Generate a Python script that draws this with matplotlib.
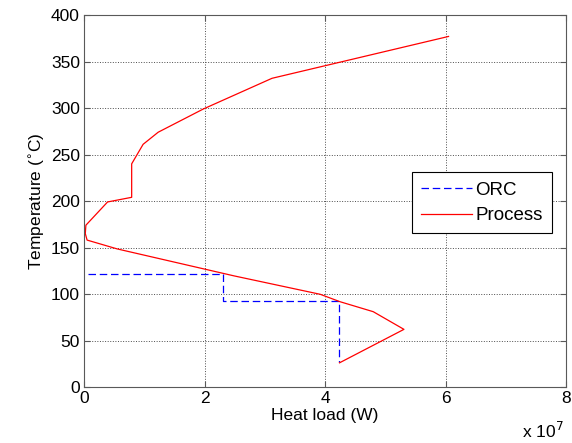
import matplotlib
matplotlib.use('Agg')
import matplotlib.pyplot as plt
import numpy as np

# Heat load in units of 1e7 W, temperatures in deg C
orc_q = [0.07, 2.30, 2.30, 4.24, 4.24]
orc_t = [121, 121, 92, 92, 27]

proc_q = [6.05, 3.12, 1.98, 1.23, 0.98, 0.79, 0.79, 0.39, 0.03, 0.02, 0.05,
          0.55, 2.49, 3.92, 4.25, 4.80, 5.31, 4.24]
proc_t = [377, 332, 299, 274, 261, 240, 204, 199, 174, 165, 158,
          148.5, 119.5, 99.7, 91.7, 81, 62, 26]

plt.rcParams['font.family'] = ['Liberation Sans', 'DejaVu Sans']
plt.rcParams['font.size'] = 12.5

fig = plt.figure(figsize=(5.72, 4.43), dpi=100)
ax = fig.add_axes([0.147, 0.1264, 0.8425, 0.8396])

ax.plot(np.array(orc_q) * 1e7, orc_t, color='#0000ff', ls=(0, (6, 3)), lw=0.9, label='ORC')
ax.plot(np.array(proc_q) * 1e7, proc_t, color='#ff0000', lw=0.9, label='Process')

ax.set_xlim(0, 8e7)
ax.set_ylim(0, 400)
ax.set_xticks(np.arange(0, 9e7, 2e7))
ax.set_yticks(np.arange(0, 401, 50))
ax.grid(True, ls=':', color='0.3', lw=0.7)
ax.tick_params(direction='in', top=True, right=True, length=4, color='0.35', pad=3)
for s in ax.spines.values():
    s.set_linewidth(0.8)
    s.set_color('0.35')

ax.set_xlabel('Heat load (W)', labelpad=1)
ax.set_ylabel(r'Temperature ($^{\circ}$C)', labelpad=3)

ax.ticklabel_format(axis='x', style='sci', scilimits=(7, 7))
ax.xaxis.get_offset_text().set_visible(False)
fig.text(0.985, 0.005, r'x 10$^7$', ha='right', va='bottom', fontsize=12.5)

leg = ax.legend(loc='upper left', bbox_to_anchor=(0.680, 0.578), borderaxespad=0,
                fancybox=False, edgecolor='black', framealpha=1, handlelength=2.7,
                borderpad=0.5, labelspacing=0.45, handletextpad=0.2, fontsize=13.5)
leg.get_frame().set_linewidth(0.8)

fig.savefig('out.png', dpi=100)
